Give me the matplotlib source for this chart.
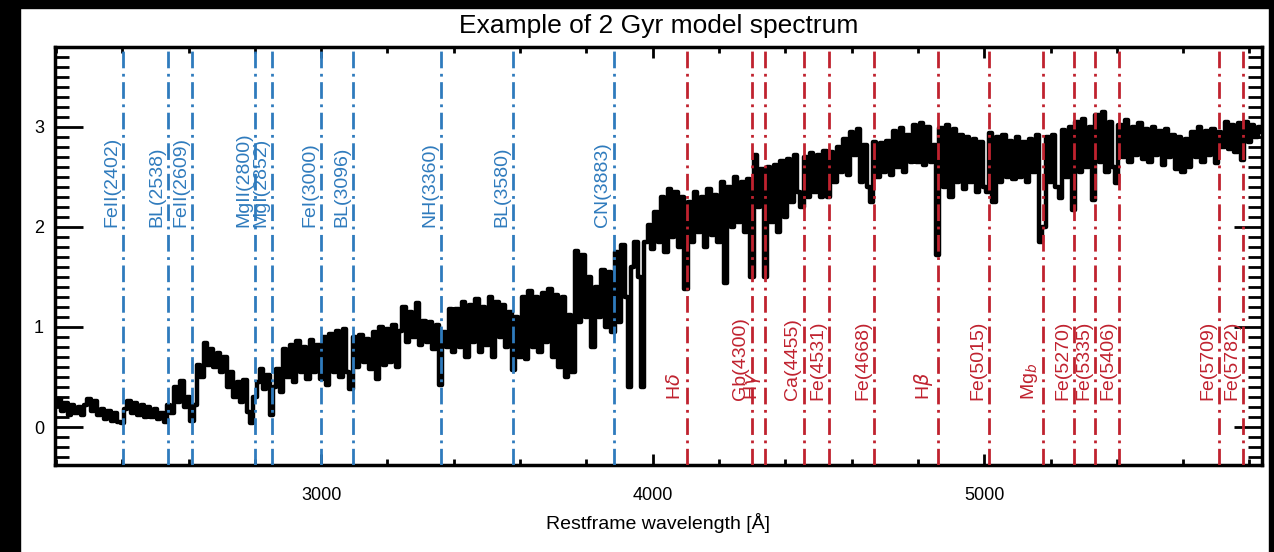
import matplotlib
matplotlib.use("Agg")
import matplotlib.pyplot as plt
from matplotlib.patches import Rectangle
from matplotlib.ticker import MultipleLocator

plt.rcParams['font.family'] = ['Liberation Sans', 'DejaVu Sans']

# model spectrum, every 10 A starting at 2200 A
wave_start = 2200
wave_step = 10
flux = [
    0.22, 0.28, 0.16, 0.24, 0.12, 0.22, 0.14, 0.20, 0.12, 0.22,   # 2200
    0.28, 0.16, 0.26, 0.12, 0.18, 0.08, 0.16, 0.06, 0.14, 0.05,   # 2300
    0.04, 0.18, 0.26, 0.14, 0.24, 0.12, 0.22, 0.10, 0.20, 0.10,   # 2400
    0.18, 0.08, 0.14, 0.05, 0.22, 0.14, 0.40, 0.25, 0.46, 0.20,   # 2500
    0.30, 0.06, 0.22, 0.62, 0.50, 0.84, 0.62, 0.78, 0.60, 0.74,   # 2600
    0.55, 0.70, 0.40, 0.55, 0.30, 0.45, 0.25, 0.47, 0.15, 0.04,   # 2700
    0.30, 0.45, 0.58, 0.38, 0.52, 0.12, 0.40, 0.58, 0.35, 0.78,   # 2800
    0.50, 0.82, 0.45, 0.86, 0.55, 0.80, 0.48, 0.87, 0.55, 0.82,   # 2900
    0.48, 0.90, 0.42, 0.93, 0.55, 0.96, 0.50, 0.98, 0.55, 0.38,   # 3000
    0.90, 0.60, 0.92, 0.65, 0.88, 0.58, 0.95, 0.48, 1.00, 0.62,   # 3100
    0.98, 0.65, 1.02, 0.60, 0.96, 1.20, 0.85, 1.15, 0.90, 1.24,   # 3200
    0.82, 1.06, 0.85, 1.05, 0.78, 1.02, 0.42, 0.95, 0.80, 1.18,   # 3300
    0.75, 1.18, 0.80, 1.25, 0.70, 1.22, 0.85, 1.28, 0.75, 1.20,   # 3400
    0.82, 1.30, 0.70, 1.25, 0.90, 1.22, 0.80, 1.15, 0.57, 1.10,   # 3500
    0.70, 1.30, 0.68, 1.36, 0.80, 1.30, 0.75, 1.34, 0.85, 1.38,   # 3600
    0.70, 1.32, 0.60, 1.30, 0.50, 1.12, 0.55, 1.76, 1.05, 1.72,   # 3700
    1.10, 1.50, 0.80, 1.40, 1.10, 1.57, 1.00, 1.55, 0.95, 1.75,   # 3800
    1.05, 1.82, 1.30, 0.40, 1.60, 1.85, 1.50, 0.40, 1.85, 2.02,   # 3900
    1.78, 2.15, 1.85, 2.30, 1.75, 2.38, 1.90, 2.35, 1.80, 2.30,   # 4000
    1.38, 2.25, 1.85, 2.35, 1.95, 2.30, 1.80, 2.38, 1.92, 2.32,   # 4100
    1.85, 2.45, 1.44, 2.40, 2.00, 2.50, 2.05, 2.45, 1.95, 2.48,   # 4200
    1.50, 2.72, 2.20, 2.58, 1.50, 2.60, 2.05, 2.62, 1.95, 2.66,   # 4300
    2.10, 2.68, 2.25, 2.72, 2.35, 2.20, 2.70, 2.30, 2.74, 2.35,   # 4400
    2.72, 2.30, 2.76, 2.30, 2.75, 2.45, 2.80, 2.55, 2.88, 2.52,   # 4500
    2.95, 2.72, 2.98, 2.45, 2.82, 2.40, 2.25, 2.85, 2.50, 2.84,   # 4600
    2.55, 2.86, 2.52, 2.96, 2.60, 2.99, 2.55, 2.92, 2.65, 3.02,   # 4700
    2.65, 3.04, 2.62, 3.00, 2.65, 2.82, 1.72, 2.99, 2.40, 3.02,   # 4800
    2.30, 2.98, 2.45, 2.92, 2.38, 2.90, 2.45, 2.88, 2.35, 2.85,   # 4900
    2.40, 2.35, 2.94, 2.25, 2.90, 2.45, 2.92, 2.50, 2.86, 2.48,   # 5000
    2.90, 2.50, 2.85, 2.45, 2.88, 2.55, 2.92, 1.85, 2.00, 2.90,   # 5100
    2.45, 2.92, 2.40, 2.29, 2.97, 2.50, 3.00, 2.17, 3.05, 2.55,   # 5200
    3.08, 2.60, 3.00, 2.27, 3.12, 2.65, 3.15, 2.55, 3.05, 2.60,   # 5300
    2.44, 3.02, 2.70, 3.07, 2.65, 3.00, 2.72, 3.04, 2.68, 2.98,   # 5400
    2.65, 3.00, 2.72, 2.96, 2.62, 2.98, 2.70, 2.92, 2.58, 2.90,   # 5500
    2.55, 2.88, 2.60, 2.95, 2.70, 3.00, 2.65, 2.96, 2.72, 2.98,   # 5600
    2.64, 2.95, 2.80, 3.05, 2.78, 3.02, 2.75, 3.04, 2.67, 3.05,   # 5700
    2.85, 3.02, 2.90, 3.00, 2.95,                                 # 5800
]
wave = [wave_start + wave_step * i for i in range(len(flux))]

# UV features (blue) and optical Lick-type features (red)
uv_pos = [2402, 2538, 2609, 2800, 2852, 3000, 3096, 3360, 3580, 3883]
uv_names = ['FeII(2402)', 'BL(2538)', 'FeII(2609)', 'MgII(2800)', 'MgI(2852)',
            'FeI(3000)', 'BL(3096)', 'NH(3360)', 'BL(3580)', 'CN(3883)']
opt_pos = [4102, 4300, 4340, 4455, 4531, 4668, 4861, 5015, 5177,
           5270, 5335, 5406, 5709, 5782]
opt_names = [r'H$\delta$', 'Gb(4300)', r'H$\gamma$', 'Ca(4455)', 'Fe(4531)',
             'Fe(4668)', r'H$\beta$', 'Fe(5015)', r'Mg$_b$', 'Fe(5270)',
             'Fe(5335)', 'Fe(5406)', 'Fe(5709)', 'Fe(5782)']

blue = '#2f7bbd'
red = '#c0222f'

fig = plt.figure(figsize=(12.74, 5.52), dpi=100)
# screenshot frame around the white page
fig.patches.append(Rectangle((0, 0), 20 / 1274, 1, transform=fig.transFigure,
                             color='black', zorder=-5))
fig.patches.append(Rectangle((0, 1 - 8 / 552), 1, 8 / 552, transform=fig.transFigure,
                             color='black', zorder=-5))
fig.patches.append(Rectangle((1 - 5 / 1274, 0), 5 / 1274, 1, transform=fig.transFigure,
                             color='black', zorder=-5))

ax = fig.add_axes([55 / 1274, 1 - 465 / 552, 1207 / 1274, 418 / 552])

ax.plot(wave, flux, color='black', lw=3.2, drawstyle='steps-mid', zorder=2)

for pos, name in zip(uv_pos, uv_names):
    ax.axvline(pos, color=blue, lw=2, dashes=(6, 2, 1, 2), zorder=3)
    ax.text(pos - 8, 2.0, name, color=blue, rotation=90, fontsize=14,
            ha='right', va='bottom', zorder=4)
for pos, name in zip(opt_pos, opt_names):
    ax.axvline(pos, color=red, lw=2, dashes=(6, 2, 1, 2), zorder=3)
    ax.text(pos - 8, 0.27, name, color=red, rotation=90, fontsize=14,
            ha='right', va='bottom', zorder=4)

ax.set_xlim(2197, 5838)
ax.set_ylim(-0.38, 3.8)
ax.xaxis.set_major_locator(MultipleLocator(1000))
ax.xaxis.set_minor_locator(MultipleLocator(200))
ax.yaxis.set_major_locator(MultipleLocator(1))
ax.yaxis.set_minor_locator(MultipleLocator(0.1))
ax.tick_params(axis='x', which='major', direction='in', top=True, length=8, width=2,
               labelsize=13, pad=16)
ax.tick_params(axis='x', which='minor', direction='in', top=True, length=4, width=2)
ax.tick_params(axis='y', which='major', direction='in', right=True, length=20, width=2,
               labelsize=13, pad=8)
ax.tick_params(axis='y', which='minor', direction='in', right=True, length=10, width=2)
for sp in ax.spines.values():
    sp.set_linewidth(2.5)

ax.set_xlabel('Restframe wavelength [Å]', fontsize=14, labelpad=6)
ax.set_title('Example of 2 Gyr model spectrum', fontsize=19, pad=10)

fig.savefig('out.png', dpi=100, facecolor='white')
